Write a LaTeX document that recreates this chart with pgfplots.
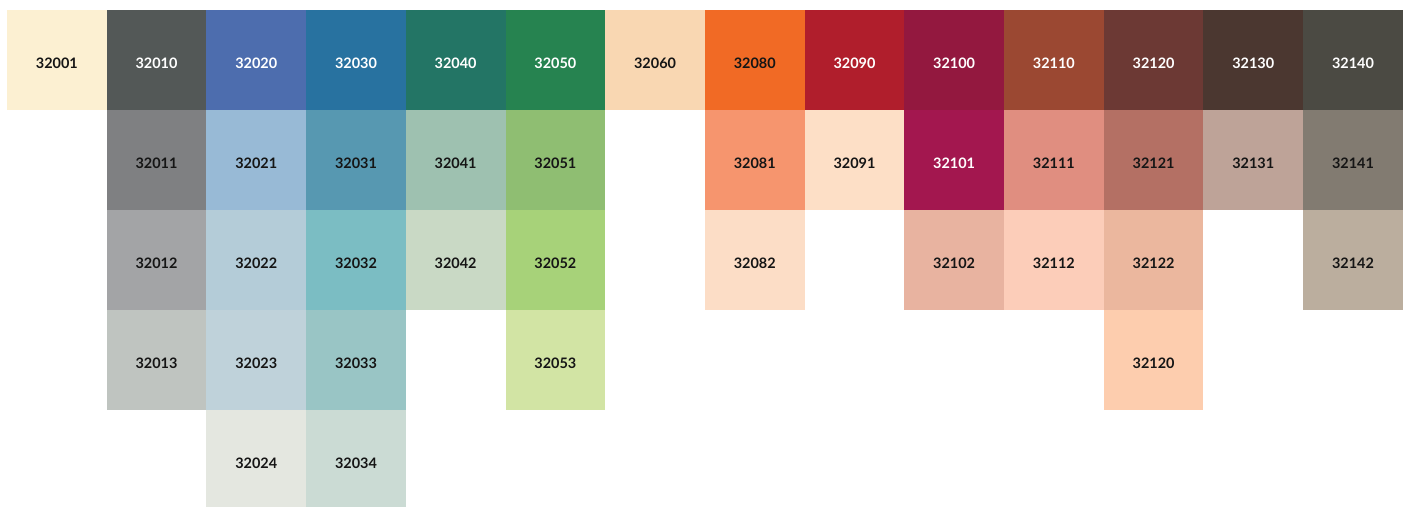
\documentclass[border=0pt]{standalone}
\usepackage{fontspec}
\setmainfont{Lato}
\usepackage{pgfplots}
\pgfplotsset{compat=1.18}
\definecolor{tk}{HTML}{151515}
\newcommand\cellfont{\fontsize{14.5}{17}\selectfont\bfseries}
\newcommand\cell[5]{%
  \xglobal\definecolor{c#1x#2}{HTML}{#3}%
  \pgfmathsetmacro\xa{#1}\pgfmathsetmacro\xb{#1+1}\pgfmathsetmacro\xc{#1+0.5}%
  \pgfmathsetmacro\ya{#2}\pgfmathsetmacro\yb{#2+1}\pgfmathsetmacro\yc{#2+0.535}%
  \edef\doit{%
    \noexpand\addplot[fill=c#1x#2,draw=none] coordinates {(\xa,\ya) (\xb,\ya) (\xb,\yb) (\xa,\yb)} -- cycle;
    \noexpand\node[text=#5,inner sep=0pt] at (axis cs:\xc,\yc) {\noexpand\cellfont #4};
  }\doit}
\begin{document}
\begin{tikzpicture}
\begin{axis}[width=1407bp,height=507bp,scale only axis,
  xmin=-0.0702,xmax=14.042,ymin=-0.1,ymax=4.97,y dir=reverse,hide axis]
% invisible frame that fixes the page to the axis area
\addplot[draw=none,forget plot] coordinates {(-0.0702,-0.1) (14.042,4.97)};
% column 0
\cell{0}{0}{FCF0D2}{32001}{tk}
% column 1
\cell{1}{0}{535857}{32010}{white}
\cell{1}{1}{7F8082}{32011}{tk}
\cell{1}{2}{A3A4A6}{32012}{tk}
\cell{1}{3}{BFC4C0}{32013}{tk}
% column 2
\cell{2}{0}{4D6DAE}{32020}{white}
\cell{2}{1}{98BAD6}{32021}{tk}
\cell{2}{2}{B4CCD8}{32022}{tk}
\cell{2}{3}{BFD2DA}{32023}{tk}
\cell{2}{4}{E4E7E0}{32024}{tk}
% column 3
\cell{3}{0}{2872A0}{32030}{white}
\cell{3}{1}{5798B1}{32031}{tk}
\cell{3}{2}{7BBDC3}{32032}{tk}
\cell{3}{3}{99C5C5}{32033}{tk}
\cell{3}{4}{CBDBD4}{32034}{tk}
% column 4
\cell{4}{0}{237565}{32040}{white}
\cell{4}{1}{9EC1B0}{32041}{tk}
\cell{4}{2}{C9D9C5}{32042}{tk}
% column 5
\cell{5}{0}{268350}{32050}{white}
\cell{5}{1}{8FBE72}{32051}{tk}
\cell{5}{2}{A7D279}{32052}{tk}
\cell{5}{3}{D2E4A4}{32053}{tk}
% column 6
\cell{6}{0}{F9D7B2}{32060}{tk}
% column 7
\cell{7}{0}{F16A25}{32080}{tk}
\cell{7}{1}{F6956E}{32081}{tk}
\cell{7}{2}{FCDDC6}{32082}{tk}
% column 8
\cell{8}{0}{B01E2C}{32090}{white}
\cell{8}{1}{FDDFC6}{32091}{tk}
% column 9
\cell{9}{0}{93183F}{32100}{white}
\cell{9}{1}{A3174F}{32101}{white}
\cell{9}{2}{E8B3A0}{32102}{tk}
% column 10
\cell{10}{0}{9B4832}{32110}{white}
\cell{10}{1}{E08E80}{32111}{tk}
\cell{10}{2}{FCCDB9}{32112}{tk}
% column 11
\cell{11}{0}{6C3934}{32120}{white}
\cell{11}{1}{B47064}{32121}{tk}
\cell{11}{2}{EBB79E}{32122}{tk}
\cell{11}{3}{FDCDAE}{32120}{tk}
% column 12
\cell{12}{0}{4B3730}{32130}{white}
\cell{12}{1}{BEA398}{32131}{tk}
% column 13
\cell{13}{0}{4B4A43}{32140}{white}
\cell{13}{1}{827B71}{32141}{tk}
\cell{13}{2}{BBAE9E}{32142}{tk}
\end{axis}
\end{tikzpicture}
\end{document}
